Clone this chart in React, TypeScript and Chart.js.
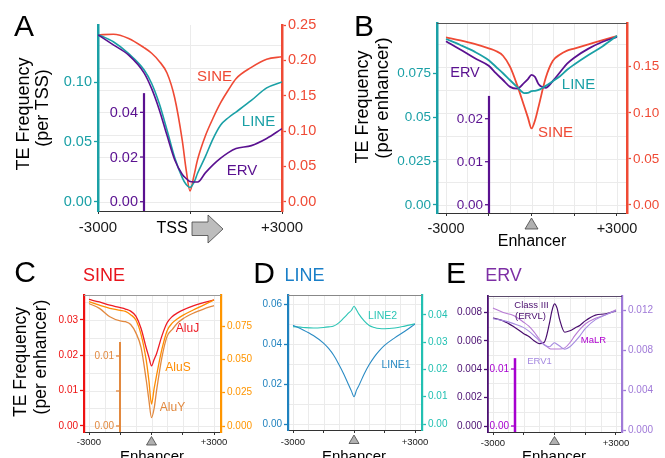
import React, { useEffect, useRef } from 'react';
import { Chart, registerables } from 'chart.js';

Chart.register(...registerables);

const FONT = "'Liberation Sans', Arial, Helvetica, sans-serif";
const GRID = '#ebebeb';

// positions (bp) relative to TSS / enhancer centre
const POS = [-3000, -2500, -2000, -1500, -1250, -1000, -750, -500, -250, -125, 0, 125, 250, 500, 750, 1000, 1250, 1500, 2000, 2500, 3000];

// Panel A (per TSS)
const A_SINE = [0.236, 0.237, 0.231, 0.218, 0.21, 0.1985, 0.182, 0.147, 0.086, 0.045, 0.015, 0.036, 0.06, 0.093, 0.118, 0.14, 0.158, 0.174, 0.19, 0.2015, 0.205];
const A_LINE = [0.14, 0.134, 0.124, 0.1105, 0.099, 0.082, 0.06, 0.037, 0.02, 0.0144, 0.0119, 0.0159, 0.024, 0.0377, 0.0526, 0.0642, 0.0703, 0.0751, 0.0848, 0.0953, 0.1003];
const A_ERV = [0.0747, 0.0702, 0.0656, 0.0577, 0.0506, 0.0411, 0.0297, 0.0188, 0.0122, 0.0104, 0.009, 0.0088, 0.0088, 0.0129, 0.0165, 0.0195, 0.022, 0.0238, 0.0251, 0.0283, 0.0327];

// Panel B (per enhancer)
const B_SINE = [0.1818, 0.1786, 0.1748, 0.1699, 0.167, 0.1619, 0.1497, 0.1297, 0.1065, 0.0948, 0.083, 0.0919, 0.107, 0.138, 0.1564, 0.1632, 0.1674, 0.1697, 0.1743, 0.1789, 0.1833];
const B_LINE = [0.0945, 0.0911, 0.0873, 0.0824, 0.0787, 0.075, 0.071, 0.0671, 0.0637, 0.0638, 0.0648, 0.065, 0.0655, 0.0678, 0.0705, 0.0733, 0.077, 0.08, 0.0854, 0.0904, 0.0963];
const B_ERV = [0.038, 0.0361, 0.0341, 0.0323, 0.0306, 0.029, 0.0274, 0.027, 0.0284, 0.0292, 0.0302, 0.0297, 0.028, 0.0272, 0.0288, 0.0308, 0.0328, 0.0342, 0.0363, 0.0379, 0.039];

// Panel C (SINE subfamilies)
const C_ALUJ = [0.0358, 0.0351, 0.0342, 0.0335, 0.0331, 0.0325, 0.0311, 0.0276, 0.022, 0.0195, 0.017, 0.0188, 0.0206, 0.0255, 0.0292, 0.031, 0.032, 0.0328, 0.034, 0.0349, 0.0357];
const C_ALUS = [0.0932, 0.0907, 0.0883, 0.0868, 0.086, 0.0835, 0.0795, 0.0685, 0.049, 0.034, 0.0165, 0.028, 0.0385, 0.0576, 0.0715, 0.0773, 0.0805, 0.083, 0.087, 0.0907, 0.0946];
const C_ALUY = [0.0175, 0.0168, 0.0156, 0.015, 0.0149, 0.0145, 0.0133, 0.0112, 0.0065, 0.0037, 0.0012, 0.0025, 0.0052, 0.0098, 0.0128, 0.0138, 0.0147, 0.0153, 0.0161, 0.0167, 0.0172];

// Panel D (LINE subfamilies)
const D_LINE1 = [0.0495, 0.0472, 0.0444, 0.0406, 0.0379, 0.0345, 0.03, 0.025, 0.0193, 0.0165, 0.0137, 0.017, 0.0195, 0.0251, 0.0298, 0.0337, 0.0368, 0.0394, 0.0432, 0.0465, 0.0501];
const D_LINE2 = [0.0357, 0.0354, 0.0352, 0.0354, 0.0356, 0.0359, 0.0371, 0.0389, 0.0408, 0.0417, 0.0432, 0.0418, 0.0402, 0.0378, 0.0361, 0.0354, 0.035, 0.0349, 0.0352, 0.0359, 0.0367];

// Panel E (ERV subfamilies)
const E_CLASS3 = [0.0076, 0.0074, 0.007, 0.0065, 0.0063, 0.006, 0.0058, 0.0059, 0.0072, 0.0081, 0.0086, 0.0083, 0.0075, 0.0066, 0.0067, 0.0069, 0.0071, 0.0074, 0.0078, 0.0079, 0.0081];
const E_MALR = [0.0207, 0.0199, 0.0194, 0.0182, 0.0175, 0.0165, 0.0153, 0.0143, 0.0136, 0.0135, 0.0135, 0.0135, 0.0135, 0.0137, 0.0146, 0.0159, 0.017, 0.0179, 0.0189, 0.0195, 0.0204];
const E_ERV1 = [0.0112, 0.011, 0.0107, 0.0103, 0.00995, 0.0095, 0.009, 0.00856, 0.00838, 0.00857, 0.00877, 0.00862, 0.00845, 0.00812, 0.00838, 0.0089, 0.0095, 0.0102, 0.0111, 0.0116, 0.012];

// tick values / labels
const X_TICKS_A = [-3000, 0, 3000];
const X_LABELS_A = ['-3000', '', '+3000'];
const X_TICKS = [-3000, -1500, 0, 1500, 3000];
const X_LABELS = ['-3000', '', '', '', '+3000'];
const X_GRID = [-3000, -2250, -1500, -750, 0, 750, 1500, 2250, 3000];

const TEAL = '#1aa0a6';
const RED = '#ef4a35';
const PURPLE = '#5a1190';

interface AxisSpec { min: number; max: number; color: string; ticks: number[]; labels: string[]; size: number; border: number; }
interface InnerSpec extends AxisSpec { at: number; top: number; }
interface SeriesSpec { data: number[]; axis: string; color: string; width: number; }
interface PanelSpec {
  rect: { x: number; y: number; w: number; h: number };
  area: { l: number; r: number; t: number; b: number };
  x: { min: number; max: number; ticks: number[]; labels: string[]; size: number; pad: number };
  yL: AxisSpec; yR: AxisSpec; yI: InnerSpec;
  gridY: { axis: string; values: number[] }[];
  gridX: number[];
  topBorder?: string;
  marker: 'tss' | 'tri';
  tri: { d: number; h: number; hw: number };
  series: SeriesSpec[];
}

const PANELS: PanelSpec[] = [
  {
    rect: { x: 0, y: 0, w: 330, h: 250 },
    area: { l: 98, r: 282, t: 25, b: 211 },
    x: { min: -3000, max: 3000, ticks: X_TICKS_A, labels: X_LABELS_A, size: 15, pad: 5 },
    yL: { min: -0.0078, max: 0.148, color: TEAL, ticks: [0, 0.05, 0.1], labels: ['0.00', '0.05', '0.10'], size: 14.5, border: 2.5 },
    yR: { min: -0.0132, max: 0.25, color: RED, ticks: [0, 0.05, 0.1, 0.15, 0.2, 0.25], labels: ['0.00', '0.05', '0.10', '0.15', '0.20', '0.25'], size: 14.5, border: 2.5 },
    yI: { min: -0.00416, max: 0.0791, color: PURPLE, ticks: [0, 0.02, 0.04], labels: ['0.00', '0.02', '0.04'], size: 14.5, border: 2.2, at: -1500, top: 0.0486 },
    gridY: [{ axis: 'yL', values: [0, 0.05, 0.1] }, { axis: 'yI', values: [0, 0.01, 0.02, 0.03, 0.04, 0.05, 0.06, 0.07] }],
    gridX: [0],
    marker: 'tss',
    tri: { d: 0, h: 0, hw: 0 },
    series: [
      { data: A_ERV, axis: 'yI', color: PURPLE, width: 1.6 },
      { data: A_LINE, axis: 'yL', color: TEAL, width: 1.6 },
      { data: A_SINE, axis: 'yR', color: RED, width: 1.6 },
    ],
  },
  {
    rect: { x: 320, y: 0, w: 345, h: 250 },
    area: { l: 437, r: 627, t: 23, b: 213 },
    x: { min: -3316, max: 3351, ticks: X_TICKS, labels: X_LABELS, size: 14.5, pad: 4 },
    yL: { min: -0.00456, max: 0.1036, color: TEAL, ticks: [0, 0.025, 0.05, 0.075], labels: ['0.00', '0.025', '0.05', '0.075'], size: 13.5, border: 2.5 },
    yR: { min: -0.00868, max: 0.1974, color: RED, ticks: [0, 0.05, 0.1, 0.15], labels: ['0.00', '0.05', '0.10', '0.15'], size: 13.5, border: 2.5 },
    yI: { min: -0.00193, max: 0.04226, color: PURPLE, ticks: [0, 0.01, 0.02], labels: ['0.00', '0.01', '0.02'], size: 13.5, border: 2.2, at: -1500, top: 0.0253 },
    gridY: [{ axis: 'yR', values: [0, 0.025, 0.05, 0.075, 0.1, 0.125, 0.15, 0.175] }],
    gridX: X_GRID,
    topBorder: '#555',
    marker: 'tri',
    tri: { d: 5, h: 11, hw: 6.5 },
    series: [
      { data: B_LINE, axis: 'yL', color: TEAL, width: 1.8 },
      { data: B_ERV, axis: 'yI', color: PURPLE, width: 1.8 },
      { data: B_SINE, axis: 'yR', color: RED, width: 1.8 },
    ],
  },
  {
    rect: { x: 0, y: 250, w: 255, h: 208 },
    area: { l: 84, r: 221, t: 295, b: 432 },
    x: { min: -3240, max: 3336, ticks: X_TICKS, labels: X_LABELS, size: 9.5, pad: 2 },
    yL: { min: -0.0017, max: 0.03707, color: '#ee1111', ticks: [0, 0.01, 0.02, 0.03], labels: ['0.00', '0.01', '0.02', '0.03'], size: 10, border: 2.2 },
    yR: { min: -0.0045, max: 0.09825, color: '#ff9500', ticks: [0, 0.025, 0.05, 0.075], labels: ['0.000', '0.025', '0.050', '0.075'], size: 10, border: 2.2 },
    yI: { min: -0.000857, max: 0.01871, color: '#e2893f', ticks: [0, 0.005, 0.01], labels: ['0.00', '', '0.01'], size: 10, border: 2, at: -1500, top: 0.012 },
    gridY: [{ axis: 'yL', values: [0, 0.005, 0.01, 0.015, 0.02, 0.025, 0.03, 0.035] }],
    gridX: X_GRID,
    topBorder: '#999',
    marker: 'tri',
    tri: { d: 4.5, h: 8.5, hw: 5 },
    series: [
      { data: C_ALUY, axis: 'yI', color: '#e2893f', width: 1.3 },
      { data: C_ALUS, axis: 'yR', color: '#ff8c00', width: 1.3 },
      { data: C_ALUJ, axis: 'yL', color: '#ee1c25', width: 1.3 },
    ],
  },
  {
    rect: { x: 240, y: 250, w: 210, h: 208 },
    area: { l: 288, r: 422, t: 295, b: 430 },
    x: { min: -3246, max: 3344, ticks: X_TICKS, labels: X_LABELS, size: 9.5, pad: 4 },
    yL: { min: -0.003, max: 0.0647, color: '#1f82bf', ticks: [0, 0.02, 0.04, 0.06], labels: ['0.00', '0.02', '0.04', '0.06'], size: 10, border: 2.2 },
    yR: { min: -0.0022, max: 0.0473, color: '#22c0b2', ticks: [0, 0.01, 0.02, 0.03, 0.04], labels: ['0.00', '0.01', '0.02', '0.03', '0.04'], size: 10, border: 2.2 },
    yI: { min: 0, max: 1, color: '#000', ticks: [], labels: [], size: 10, border: 0, at: 0, top: 0 },
    gridY: [{ axis: 'yL', values: [0, 0.01, 0.02, 0.03, 0.04, 0.05, 0.06] }],
    gridX: X_GRID,
    topBorder: '#888',
    marker: 'tri',
    tri: { d: 5, h: 8.5, hw: 5 },
    series: [
      { data: D_LINE1, axis: 'yL', color: '#2a8bc4', width: 1.1 },
      { data: D_LINE2, axis: 'yR', color: '#2cc5b5', width: 1.1 },
    ],
  },
  {
    rect: { x: 445, y: 250, w: 220, h: 208 },
    area: { l: 488, r: 622, t: 296, b: 432 },
    x: { min: -3244, max: 3293, ticks: X_TICKS, labels: X_LABELS, size: 9.5, pad: 3 },
    yL: { min: -0.00042, max: 0.00915, color: '#4b0f72', ticks: [0, 0.002, 0.004, 0.006, 0.008], labels: ['0.000', '0.002', '0.004', '0.006', '0.008'], size: 10, border: 1.8 },
    yR: { min: -0.0002, max: 0.01348, color: '#a07ad8', ticks: [0, 0.004, 0.008, 0.012], labels: ['0.000', '0.004', '0.008', '0.012'], size: 10, border: 2.2 },
    yI: { min: -0.00105, max: 0.0228, color: '#a700cf', ticks: [0, 0.01], labels: ['0.00', '0.01'], size: 10, border: 2.5, at: -1930, top: 0.0119 },
    gridY: [{ axis: 'yL', values: [0, 0.001, 0.002, 0.003, 0.004, 0.005, 0.006, 0.007, 0.008, 0.009] }],
    gridX: X_GRID,
    topBorder: '#5a4a6a',
    marker: 'tri',
    tri: { d: 4.5, h: 8, hw: 5 },
    series: [
      { data: E_ERV1, axis: 'yR', color: '#a58ae0', width: 1.1 },
      { data: E_MALR, axis: 'yI', color: '#b87ad4', width: 1.1 },
      { data: E_CLASS3, axis: 'yL', color: '#4a0e6e', width: 1.2 },
    ],
  },
];

interface TextSpec { t: string; x: number; y: number; s: number; c: string; r?: boolean; }
const TEXTS: TextSpec[] = [
  { t: 'A', x: 24, y: 26, s: 30, c: '#000' },
  { t: 'B', x: 364, y: 26, s: 30, c: '#000' },
  { t: 'C', x: 25, y: 272, s: 30, c: '#000' },
  { t: 'D', x: 264, y: 273, s: 30, c: '#000' },
  { t: 'E', x: 456, y: 273, s: 30, c: '#000' },
  { t: 'SINE', x: 104, y: 275, s: 18, c: '#e8141c' },
  { t: 'LINE', x: 304.5, y: 275, s: 18, c: '#1a7fc8' },
  { t: 'ERV', x: 503.5, y: 275, s: 18, c: '#7d2fa5' },
  { t: 'TE Frequency', x: 23, y: 114, s: 18, c: '#000', r: true },
  { t: '(per TSS)', x: 42, y: 108, s: 18, c: '#000', r: true },
  { t: 'TE Frequency', x: 362, y: 107, s: 18, c: '#000', r: true },
  { t: '(per enhancer)', x: 382, y: 98, s: 18.5, c: '#000', r: true },
  { t: 'TE Frequency', x: 21, y: 362, s: 17.5, c: '#000', r: true },
  { t: '(per enhancer)', x: 41, y: 357, s: 17.5, c: '#000', r: true },
  { t: 'TSS', x: 172, y: 228, s: 16, c: '#000' },
  { t: 'Enhancer', x: 532, y: 241, s: 16, c: '#000' },
  { t: 'Enhancer', x: 152, y: 455, s: 15, c: '#000' },
  { t: 'Enhancer', x: 354, y: 455, s: 15, c: '#000' },
  { t: 'Enhancer', x: 554, y: 455, s: 15, c: '#000' },
  { t: 'SINE', x: 214.5, y: 75, s: 15, c: RED },
  { t: 'LINE', x: 258.5, y: 120, s: 15, c: TEAL },
  { t: 'ERV', x: 242, y: 169, s: 15, c: PURPLE },
  { t: 'ERV', x: 465, y: 72, s: 14.5, c: PURPLE },
  { t: 'LINE', x: 578.5, y: 83, s: 15, c: TEAL },
  { t: 'SINE', x: 555.5, y: 131, s: 15, c: RED },
  { t: 'AluJ', x: 187.5, y: 328, s: 12, c: '#ee1c25' },
  { t: 'AluS', x: 178, y: 367, s: 12, c: '#ff8c00' },
  { t: 'AluY', x: 172.5, y: 407, s: 12, c: '#e2893f' },
  { t: 'LINE2', x: 382.5, y: 315, s: 10.5, c: '#2cc5b5' },
  { t: 'LINE1', x: 396, y: 364, s: 10.5, c: '#2a8bc4' },
  { t: 'Class III', x: 531.5, y: 305, s: 9.5, c: '#4a0e6e' },
  { t: '(ERVL)', x: 530.5, y: 316, s: 9.5, c: '#4a0e6e' },
  { t: 'MaLR', x: 593.5, y: 340, s: 9.5, c: '#b000d0' },
  { t: 'ERV1', x: 539.5, y: 361, s: 9.5, c: '#a58ae0' },
];

function yAxis(ax: AxisSpec, pos: string, width: number) {
  return {
    type: 'linear',
    position: pos,
    min: ax.min,
    max: ax.max,
    afterFit: (s: any) => { s.width = width; },
    afterBuildTicks: (s: any) => { s.ticks = ax.ticks.map((v) => ({ value: v })); },
    ticks: {
      autoSkip: false,
      color: ax.color,
      padding: 2,
      font: { family: FONT, size: ax.size },
      callback: (_v: any, i: number) => ax.labels[i],
    },
    grid: { display: true, drawOnChartArea: false, drawTicks: true, tickLength: 4, tickColor: ax.color, tickWidth: 1.3 },
    border: { display: true, color: ax.color, width: ax.border },
  };
}

function makePlugin(p: PanelSpec) {
  return {
    id: 'panelDeco',
    beforeDraw(chart: any) {
      const { ctx, chartArea: a, scales } = chart;
      ctx.save();
      ctx.strokeStyle = GRID;
      ctx.lineWidth = 1;
      p.gridY.forEach((g) => {
        g.values.forEach((v) => {
          const y = Math.round(scales[g.axis].getPixelForValue(v)) + 0.5;
          if (y < a.top - 0.5 || y > a.bottom + 0.5) return;
          ctx.beginPath();
          ctx.moveTo(a.left, y);
          ctx.lineTo(a.right, y);
          ctx.stroke();
        });
      });
      p.gridX.forEach((v) => {
        const x = Math.round(scales.x.getPixelForValue(v)) + 0.5;
        ctx.beginPath();
        ctx.moveTo(x, a.top);
        ctx.lineTo(x, a.bottom);
        ctx.stroke();
      });
      ctx.restore();
    },
    beforeDatasetsDraw(chart: any) {
      const { ctx, chartArea: a, scales } = chart;
      ctx.save();
      if (p.topBorder) {
        ctx.strokeStyle = p.topBorder;
        ctx.lineWidth = 1;
        ctx.beginPath();
        ctx.moveTo(a.left, Math.round(a.top) + 0.5);
        ctx.lineTo(a.right, Math.round(a.top) + 0.5);
        ctx.stroke();
      }
      const ia = p.yI;
      if (ia.ticks.length) {
        const s = scales.yI;
        const x = Math.round(scales.x.getPixelForValue(ia.at));
        ctx.strokeStyle = ia.color;
        ctx.lineWidth = ia.border;
        ctx.beginPath();
        ctx.moveTo(x, a.bottom);
        ctx.lineTo(x, s.getPixelForValue(ia.top));
        ctx.stroke();
        ctx.lineWidth = 1.3;
        ctx.fillStyle = ia.color;
        ctx.font = `${ia.size}px ${FONT}`;
        ctx.textAlign = 'right';
        ctx.textBaseline = 'middle';
        ia.ticks.forEach((v, i) => {
          const y = s.getPixelForValue(v);
          ctx.beginPath();
          ctx.moveTo(x - 4, y);
          ctx.lineTo(x, y);
          ctx.stroke();
          if (ia.labels[i]) ctx.fillText(ia.labels[i], x - 6, y + 0.5);
        });
      }
      ctx.restore();
    },
    afterDraw(chart: any) {
      const { ctx, chartArea: a, scales } = chart;
      const x0 = scales.x.getPixelForValue(0);
      const b = a.bottom;
      ctx.save();
      ctx.beginPath();
      if (p.marker === 'tss') {
        ctx.moveTo(x0 + 2, b + 11);
        ctx.lineTo(x0 + 18, b + 11);
        ctx.lineTo(x0 + 18, b + 4);
        ctx.lineTo(x0 + 33, b + 18);
        ctx.lineTo(x0 + 18, b + 32);
        ctx.lineTo(x0 + 18, b + 24.5);
        ctx.lineTo(x0 + 2, b + 24.5);
        ctx.closePath();
        ctx.fillStyle = '#bdbdbd';
      } else {
        ctx.moveTo(x0, b + p.tri.d);
        ctx.lineTo(x0 + p.tri.hw, b + p.tri.d + p.tri.h);
        ctx.lineTo(x0 - p.tri.hw, b + p.tri.d + p.tri.h);
        ctx.closePath();
        ctx.fillStyle = '#b0b0b0';
      }
      ctx.fill();
      ctx.strokeStyle = '#444';
      ctx.lineWidth = 0.8;
      ctx.stroke();
      ctx.restore();
    },
  };
}

function buildConfig(p: PanelSpec): any {
  const leftW = p.area.l - p.rect.x;
  const rightW = p.rect.x + p.rect.w - p.area.r;
  const bottomH = p.rect.y + p.rect.h - p.area.b;
  return {
    type: 'line',
    data: {
      datasets: p.series.map((s) => ({
        data: POS.map((x, i) => ({ x, y: s.data[i] })),
        yAxisID: s.axis,
        borderColor: s.color,
        borderWidth: s.width,
        pointRadius: 0,
        fill: false,
        cubicInterpolationMode: 'monotone',
      })),
    },
    options: {
      responsive: false,
      animation: false,
      devicePixelRatio: 1,
      events: [],
      layout: { padding: { top: p.area.t - p.rect.y, left: 0, right: 0, bottom: 0 } },
      plugins: { legend: { display: false }, tooltip: { enabled: false } },
      scales: {
        x: {
          type: 'linear',
          position: 'bottom',
          min: p.x.min,
          max: p.x.max,
          afterFit: (s: any) => { s.height = bottomH; },
          afterBuildTicks: (s: any) => { s.ticks = p.x.ticks.map((v) => ({ value: v })); },
          ticks: {
            autoSkip: false,
            maxRotation: 0,
            minRotation: 0,
            color: '#1a1a1a',
            padding: p.x.pad,
            font: { family: FONT, size: p.x.size },
            callback: (_v: any, i: number) => p.x.labels[i],
          },
          grid: { display: true, drawOnChartArea: false, drawTicks: true, tickLength: 3, tickColor: '#333', tickWidth: 1 },
          border: { display: true, color: '#333', width: 1 },
        },
        yL: yAxis(p.yL, 'left', leftW),
        yR: yAxis(p.yR, 'right', rightW),
        yI: { type: 'linear', display: false, min: p.yI.min, max: p.yI.max },
      },
    },
    plugins: [makePlugin(p)],
  };
}

function Panel({ spec }: { spec: PanelSpec }) {
  const ref = useRef<HTMLCanvasElement>(null);
  useEffect(() => {
    const chart = new Chart(ref.current as HTMLCanvasElement, buildConfig(spec));
    return () => chart.destroy();
  }, [spec]);
  return (
    <canvas
      ref={ref}
      width={spec.rect.w}
      height={spec.rect.h}
      style={{ position: 'absolute', left: spec.rect.x, top: spec.rect.y, width: spec.rect.w, height: spec.rect.h }}
    />
  );
}

export default function App() {
  return (
    <div style={{ position: 'absolute', left: 0, top: 0, width: 665, height: 458, overflow: 'hidden', background: '#fff', fontFamily: FONT }}>
      {PANELS.map((p, i) => <Panel key={i} spec={p} />)}
      {TEXTS.map((t, i) => (
        <div
          key={'t' + i}
          style={{
            position: 'absolute',
            left: t.x,
            top: t.y,
            transform: `translate(-50%, -50%)${t.r ? ' rotate(-90deg)' : ''}`,
            whiteSpace: 'nowrap',
            lineHeight: 1,
            fontSize: t.s,
            color: t.c,
            fontFamily: FONT,
          }}
        >
          {t.t}
        </div>
      ))}
    </div>
  );
}
